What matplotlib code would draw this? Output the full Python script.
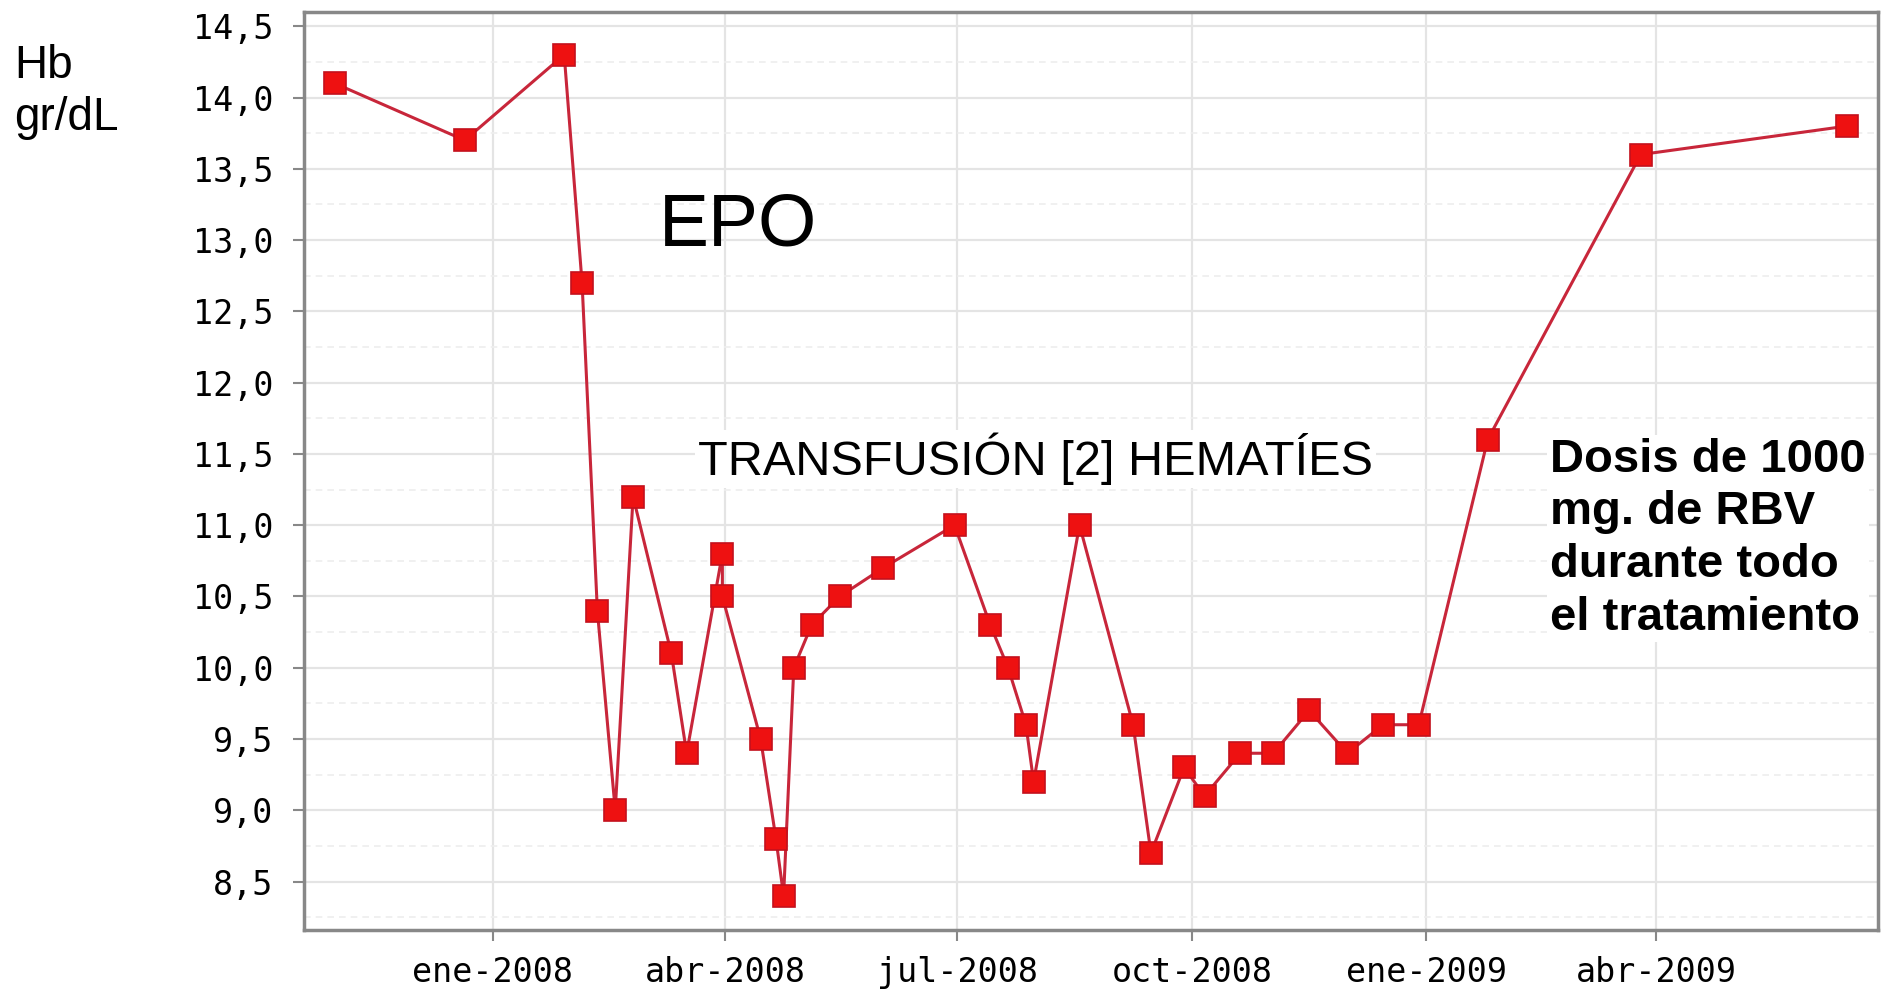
import matplotlib
matplotlib.use('Agg')
import matplotlib.pyplot as plt
import matplotlib.ticker as mticker
import pandas as pd

# fechas de analitica y hemoglobina (g/dL)
fechas = ['2007-10-31', '2007-12-21', '2008-01-29', '2008-02-05', '2008-02-11',
          '2008-02-18', '2008-02-25', '2008-03-11', '2008-03-17', '2008-03-31',
          '2008-03-31', '2008-04-15', '2008-04-21', '2008-04-24', '2008-04-28',
          '2008-05-05', '2008-05-16', '2008-06-02', '2008-06-30', '2008-07-14',
          '2008-07-21', '2008-07-28', '2008-07-31', '2008-08-18', '2008-09-08',
          '2008-09-15', '2008-09-28', '2008-10-06', '2008-10-20', '2008-11-02',
          '2008-11-16', '2008-12-01', '2008-12-15', '2008-12-29', '2009-01-25',
          '2009-03-26', '2009-06-15']
hb = [14.1, 13.7, 14.3, 12.7, 10.4,
      9.0, 11.2, 10.1, 9.4, 10.8,
      10.5, 9.5, 8.8, 8.4, 10.0,
      10.3, 10.5, 10.7, 11.0, 10.3,
      10.0, 9.6, 9.2, 11.0, 9.6,
      8.7, 9.3, 9.1, 9.4, 9.4,
      9.7, 9.4, 9.6, 9.6, 11.6,
      13.6, 13.8]

tick_fechas = ['2008-01-01', '2008-04-01', '2008-07-01', '2008-10-01', '2009-01-01', '2009-04-01']
tick_labels = ['ene-2008', 'abr-2008', 'jul-2008', 'oct-2008', 'ene-2009', 'abr-2009']
y_ticks = [8.5, 9.0, 9.5, 10.0, 10.5, 11.0, 11.5, 12.0, 12.5, 13.0, 13.5, 14.0, 14.5]

x = pd.to_datetime(fechas)

fig = plt.figure(figsize=(18.87, 9.99), dpi=100)
W, H = 1887, 999
ax = fig.add_axes([304 / W, 1 - 930 / H, (1878 - 304) / W, (930 - 12) / H])

ax.plot(x, hb, color='#c8263a', lw=2.2, marker='s', ms=16,
        mfc='#ee1111', mec='#c4101c', mew=1.2, zorder=3)

ax.set_xlim(pd.Timestamp('2007-10-19'), pd.Timestamp('2009-06-27'))
ax.set_ylim(8.16, 14.6)

ax.set_xticks(pd.to_datetime(tick_fechas))
ax.set_xticklabels(tick_labels)
ax.set_yticks(y_ticks)
ax.yaxis.set_major_formatter(mticker.FuncFormatter(lambda v, p: f'{v:.1f}'.replace('.', ',')))
ax.yaxis.set_minor_locator(mticker.MultipleLocator(0.25))

ax.grid(which='major', color='#e4e4e4', lw=1.6, zorder=0)
ax.grid(which='minor', axis='y', color='#eeeeee', lw=1.2, ls=(0, (4, 3)), zorder=0)
ax.tick_params(which='minor', length=0)
ax.tick_params(axis='both', which='major', length=8, width=1.5, color='#888888',
               labelsize=24, labelcolor='black')
for lab in ax.get_xticklabels() + ax.get_yticklabels():
    lab.set_family('DejaVu Sans Mono')
ax.tick_params(axis='y', pad=14)
ax.tick_params(axis='x', pad=11)
for s in ax.spines.values():
    s.set_color('#888888')
    s.set_linewidth(2.5)

ax.text(0.2255, 0.7457, 'EPO', transform=ax.transAxes, ha='left', va='baseline',
        fontsize=54, family='Liberation Sans')
ax.text(0.465, 0.4956, 'TRANSFUSIÓN [2] HEMATÍES', transform=ax.transAxes,
        ha='center', va='baseline', fontsize=35, family='Liberation Sans',
        bbox=dict(facecolor='white', edgecolor='none', pad=2), zorder=2)
fig.text(1550 / W, 1 - 438 / H, 'Dosis de 1000\nmg. de RBV\ndurante todo\nel tratamiento',
         ha='left', va='top', fontsize=34, fontweight='bold', family='Liberation Sans',
         linespacing=1.25, bbox=dict(facecolor='white', edgecolor='none', pad=2))
fig.text(14 / W, 1 - 44 / H, 'Hb\ngr/dL', ha='left', va='top', fontsize=33,
         family='Liberation Sans', linespacing=1.25)

fig.savefig('out.png', dpi=100, facecolor='white')
